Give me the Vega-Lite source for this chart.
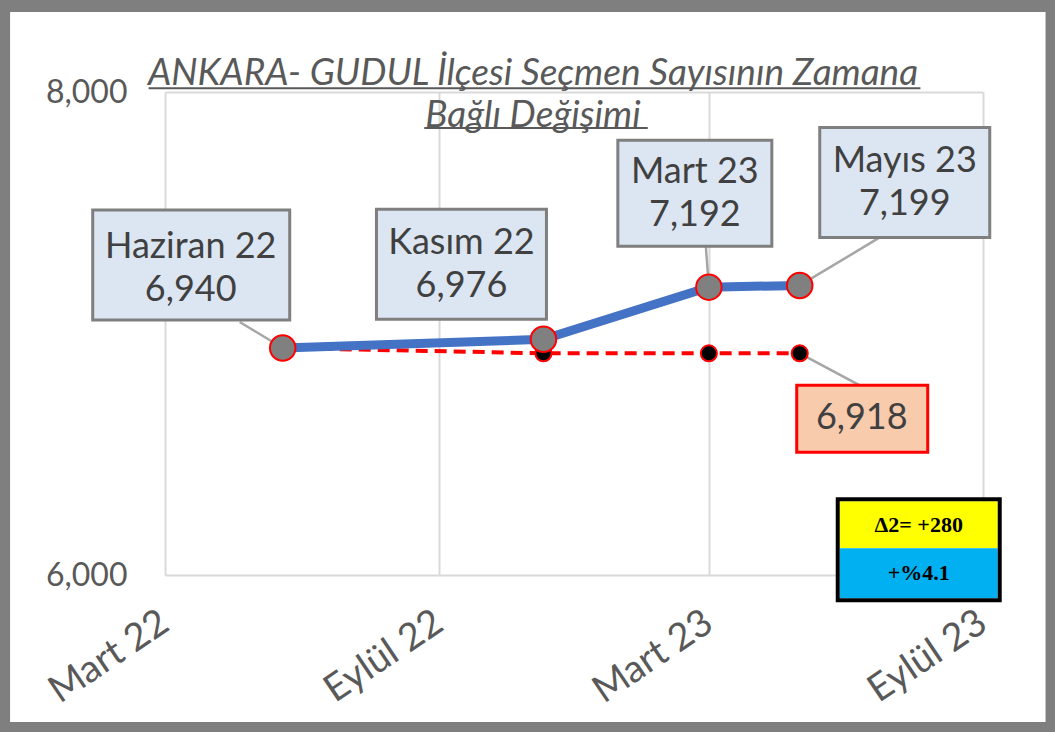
{
  "$schema": "https://vega.github.io/schema/vega-lite/v6.json",
  "width": 818,
  "height": 483,
  "autosize": {"type": "none"},
  "padding": {"left": 165, "top": 92, "right": 72, "bottom": 157},
  "background": "white",
  "config": {"view": {"stroke": null}, "font": "Lato"},
  "title": {
    "text": ["ANKARA- GUDUL İlçesi Seçmen Sayısının Zamana", "Bağlı Değişimi"],
    "font": "Lato",
    "fontSize": 37,
    "fontStyle": "italic",
    "fontWeight": "normal",
    "color": "#595959",
    "anchor": "middle",
    "frame": "group",
    "dx": -41,
    "offset": -172,
    "lineHeight": 42,
    "baseline": "bottom"
  },
  "resolve": {"axis": {"x": "independent", "y": "independent"}},
  "layer": [
    {
      "data": {"values": [{}]},
      "mark": {"type": "rect", "fill": "white", "fillOpacity": 0, "stroke": "#7f7f7f", "strokeWidth": 12, "clip": false},
      "encoding": {
        "x": {"datum": {"year": 2021, "month": 11, "date": 13, "utc": true}, "type": "temporal", "axis": null, "scale": {"type": "utc", "domain": [{"year": 2022, "month": 3, "date": 1, "utc": true}, {"year": 2023, "month": 9, "date": 1, "utc": true}]}},
        "x2": {"datum": {"year": 2023, "month": 10, "date": 17, "utc": true}},
        "y": {"datum": 8356, "type": "quantitative", "axis": null, "scale": {"domain": [6000, 8000], "zero": false}},
        "y2": {"datum": 5366}
      }
    },
    {
      "data": {"values": [{}]},
      "mark": {"type": "rule", "color": "#595959", "strokeWidth": 2, "clip": false},
      "encoding": {
        "x": {"datum": {"year": 2022, "month": 2, "date": 18, "utc": true}, "type": "temporal", "axis": null, "scale": {"type": "utc", "domain": [{"year": 2022, "month": 3, "date": 1, "utc": true}, {"year": 2023, "month": 9, "date": 1, "utc": true}]}},
        "x2": {"datum": {"year": 2023, "month": 7, "date": 21, "utc": true}},
        "y": {"datum": 8016, "type": "quantitative", "axis": null, "scale": {"domain": [6000, 8000], "zero": false}}
      }
    },
    {
      "data": {"values": [{}]},
      "mark": {"type": "rule", "color": "#595959", "strokeWidth": 2, "clip": false},
      "encoding": {
        "x": {"datum": {"year": 2022, "month": 8, "date": 22, "utc": true}, "type": "temporal", "axis": null, "scale": {"type": "utc", "domain": [{"year": 2022, "month": 3, "date": 1, "utc": true}, {"year": 2023, "month": 9, "date": 1, "utc": true}]}},
        "x2": {"datum": {"year": 2023, "month": 1, "date": 19, "utc": true}},
        "y": {"datum": 7851, "type": "quantitative", "axis": null, "scale": {"domain": [6000, 8000], "zero": false}}
      }
    },
    {
      "data": {
        "values": [
          {"date": "2022-05-19", "value": 6940, "series": "Seçmen", "label": "Haziran 22"},
          {"date": "2022-11-10", "value": 6976, "series": "Seçmen", "label": "Kasım 22"},
          {"date": "2023-03-01", "value": 7192, "series": "Seçmen", "label": "Mart 23"},
          {"date": "2023-05-01", "value": 7199, "series": "Seçmen", "label": "Mayıs 23"},
          {"date": "2022-05-19", "value": 6940, "series": "Baz", "label": "Haziran 22"},
          {"date": "2022-11-10", "value": 6918, "series": "Baz", "label": "Kasım 22"},
          {"date": "2023-03-01", "value": 6918, "series": "Baz", "label": "Mart 23"},
          {"date": "2023-05-01", "value": 6918, "series": "Baz", "label": "Mayıs 23"}
        ]
      },
      "transform": [{"calculate": "[datum.label, format(datum.value, ',')]", "as": "lines"}],
      "encoding": {
        "x": {
          "field": "date",
          "type": "temporal",
          "scale": {"type": "utc", "domain": [{"year": 2022, "month": 3, "date": 1, "utc": true}, {"year": 2023, "month": 9, "date": 1, "utc": true}]},
          "axis": {
            "title": null,
            "values": [
              {"year": 2022, "month": 3, "date": 1, "utc": true},
              {"year": 2022, "month": 9, "date": 1, "utc": true},
              {"year": 2023, "month": 3, "date": 1, "utc": true},
              {"year": 2023, "month": 9, "date": 1, "utc": true}
            ],
            "labelExpr": "(utcmonth(datum.value) == 2 ? 'Mart ' : 'Eylül ') + utcFormat(datum.value, '%y')",
            "grid": true,
            "gridColor": "#d9d9d9",
            "gridWidth": 2,
            "domain": false,
            "ticks": false,
            "labelAngle": -34,
            "labelAlign": "right",
            "labelBaseline": "middle",
            "labelFont": "Lato",
            "labelFontSize": 38,
            "labelColor": "#595959",
            "labelPadding": 44,
            "labelFlush": false,
            "labelOverlap": false,
            "labelBound": false
          }
        },
        "y": {
          "field": "value",
          "type": "quantitative",
          "scale": {"domain": [6000, 8000], "zero": false},
          "axis": {
            "title": null,
            "values": [6000, 8000],
            "labelExpr": "format(datum.value, ',')",
            "grid": true,
            "gridColor": "#d9d9d9",
            "gridWidth": 2,
            "domain": false,
            "ticks": false,
            "labelFont": "Lato",
            "labelFontSize": 32,
            "labelColor": "#595959",
            "labelPadding": 38
          }
        }
      },
      "layer": [
        {
          "transform": [{"filter": "datum.series == 'Seçmen' && datum.label == 'Haziran 22'"}],
          "mark": {"type": "rule", "color": "#a6a6a6", "strokeWidth": 2.5, "x2Offset": -43, "y2Offset": -26},
          "encoding": {"x2": {"field": "date"}, "y2": {"field": "value"}}
        },
        {
          "transform": [{"filter": "datum.series == 'Seçmen' && datum.label == 'Mart 23'"}],
          "mark": {"type": "rule", "color": "#a6a6a6", "strokeWidth": 2.5, "x2Offset": -3, "y2Offset": -41},
          "encoding": {"x2": {"field": "date"}, "y2": {"field": "value"}}
        },
        {
          "transform": [{"filter": "datum.series == 'Seçmen' && datum.label == 'Mayıs 23'"}],
          "mark": {"type": "rule", "color": "#a6a6a6", "strokeWidth": 2.5, "x2Offset": 80, "y2Offset": -48},
          "encoding": {"x2": {"field": "date"}, "y2": {"field": "value"}}
        },
        {
          "transform": [{"filter": "datum.series == 'Baz' && datum.label == 'Mayıs 23'"}],
          "mark": {"type": "rule", "color": "#a6a6a6", "strokeWidth": 2.5, "x2Offset": 60, "y2Offset": 32},
          "encoding": {"x2": {"field": "date"}, "y2": {"field": "value"}}
        },
        {
          "transform": [{"filter": "datum.series == 'Baz'"}],
          "mark": {"type": "line", "color": "#ff0000", "strokeWidth": 4, "strokeDash": [12, 7]},
          "encoding": {}
        },
        {
          "transform": [{"filter": "datum.series == 'Baz'"}],
          "mark": {"type": "point", "filled": true, "fill": "#000000", "stroke": "#ff0000", "strokeWidth": 2, "size": 260, "opacity": 1}
        },
        {
          "transform": [{"filter": "datum.series == 'Seçmen'"}],
          "mark": {"type": "line", "color": "#4472c4", "strokeWidth": 9},
          "encoding": {}
        },
        {
          "transform": [{"filter": "datum.series == 'Seçmen'"}],
          "mark": {"type": "point", "filled": true, "fill": "#808080", "stroke": "#ff0000", "strokeWidth": 2, "size": 650, "opacity": 1}
        },
        {
          "transform": [{"filter": "datum.series == 'Seçmen' && datum.label == 'Haziran 22'"}],
          "layer": [
            {"mark": {"type": "rect", "fill": "#dce6f2", "stroke": "#7f7f7f", "strokeWidth": 3, "xOffset": -190, "x2Offset": 7, "yOffset": -138, "y2Offset": -28}, "encoding": {"x2": {"field": "date"}, "y2": {"field": "value"}}},
            {"mark": {"type": "text", "font": "Lato", "fontSize": 36, "color": "#404040", "lineHeight": 43, "align": "center", "baseline": "middle", "dx": -92, "dy": -101}, "encoding": {"text": {"field": "lines"}}}
          ]
        },
        {
          "transform": [{"filter": "datum.series == 'Seçmen' && datum.label == 'Kasım 22'"}],
          "layer": [
            {"mark": {"type": "rect", "fill": "#dce6f2", "stroke": "#7f7f7f", "strokeWidth": 3, "xOffset": -167, "x2Offset": 3, "yOffset": -130, "y2Offset": -20}, "encoding": {"x2": {"field": "date"}, "y2": {"field": "value"}}},
            {"mark": {"type": "text", "font": "Lato", "fontSize": 36, "color": "#404040", "lineHeight": 43, "align": "center", "baseline": "middle", "dx": -82, "dy": -96}, "encoding": {"text": {"field": "lines"}}}
          ]
        },
        {
          "transform": [{"filter": "datum.series == 'Seçmen' && datum.label == 'Mart 23'"}],
          "layer": [
            {"mark": {"type": "rect", "fill": "#dce6f2", "stroke": "#7f7f7f", "strokeWidth": 3, "xOffset": -91, "x2Offset": 63, "yOffset": -147, "y2Offset": -41}, "encoding": {"x2": {"field": "date"}, "y2": {"field": "value"}}},
            {"mark": {"type": "text", "font": "Lato", "fontSize": 36, "color": "#404040", "lineHeight": 43, "align": "center", "baseline": "middle", "dx": -14, "dy": -115}, "encoding": {"text": {"field": "lines"}}}
          ]
        },
        {
          "transform": [{"filter": "datum.series == 'Seçmen' && datum.label == 'Mayıs 23'"}],
          "layer": [
            {"mark": {"type": "rect", "fill": "#dce6f2", "stroke": "#7f7f7f", "strokeWidth": 3, "xOffset": 20, "x2Offset": 190, "yOffset": -158, "y2Offset": -48}, "encoding": {"x2": {"field": "date"}, "y2": {"field": "value"}}},
            {"mark": {"type": "text", "font": "Lato", "fontSize": 36, "color": "#404040", "lineHeight": 43, "align": "center", "baseline": "middle", "dx": 105, "dy": -124}, "encoding": {"text": {"field": "lines"}}}
          ]
        },
        {
          "transform": [{"filter": "datum.series == 'Baz' && datum.label == 'Mayıs 23'"}],
          "layer": [
            {"mark": {"type": "rect", "fill": "#f8cbad", "stroke": "#ff0000", "strokeWidth": 3, "xOffset": -3, "x2Offset": 128, "yOffset": 32, "y2Offset": 99}, "encoding": {"x2": {"field": "date"}, "y2": {"field": "value"}}},
            {"mark": {"type": "text", "font": "Lato", "fontSize": 36, "color": "#404040", "align": "center", "baseline": "middle", "dx": 62, "dy": 65}, "encoding": {"text": {"field": "value", "format": ","}}},
            {"mark": {"type": "rect", "fill": "#ffff00", "xOffset": 40, "x2Offset": 198, "yOffset": 148, "y2Offset": 195}, "encoding": {"x2": {"field": "date"}, "y2": {"field": "value"}}},
            {"mark": {"type": "rect", "fill": "#00b0f0", "xOffset": 40, "x2Offset": 198, "yOffset": 195, "y2Offset": 245}, "encoding": {"x2": {"field": "date"}, "y2": {"field": "value"}}},
            {"mark": {"type": "rect", "fill": "white", "fillOpacity": 0, "stroke": "#000000", "strokeWidth": 4, "xOffset": 38, "x2Offset": 200, "yOffset": 146, "y2Offset": 247}, "encoding": {"x2": {"field": "date"}, "y2": {"field": "value"}}},
            {"mark": {"type": "text", "text": "Δ2= +280", "font": "Liberation Serif", "fontWeight": "bold", "fontSize": 22, "color": "#000000", "align": "center", "baseline": "middle", "dx": 119, "dy": 172}},
            {"mark": {"type": "text", "text": "+%4.1", "font": "Liberation Serif", "fontWeight": "bold", "fontSize": 22, "color": "#000000", "align": "center", "baseline": "middle", "dx": 119, "dy": 220}}
          ]
        }
      ]
    }
  ]
}
